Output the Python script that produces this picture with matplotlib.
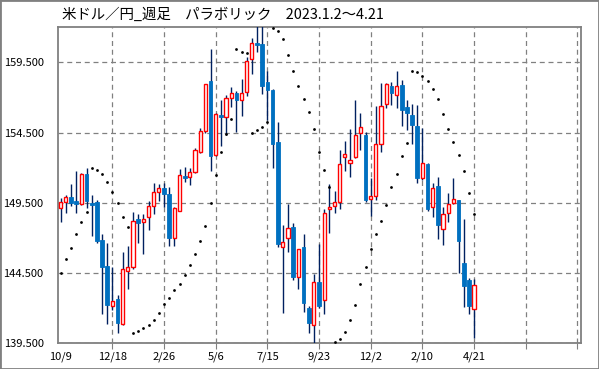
import matplotlib
matplotlib.use("Agg")
import matplotlib.pyplot as plt
from matplotlib.patches import Rectangle
import numpy as np

plt.rcParams['font.family'] = ['Noto Sans CJK JP', 'DejaVu Sans']

title = "米ドル／円_週足　パラボリック　2023.1.2～4.21"
xtick_labels = ["10/9", "12/18", "2/26", "5/6", "7/15", "9/23", "12/2", "2/10", "4/21", "", ""]
ytick_values = [139.5, 144.5, 149.5, 154.5, 159.5]

opens = [149.11,149.58,149.92,149.63,149.39,151.55,149.49,149.56,146.85,145.00,
         142.13,142.63,140.88,144.67,144.96,148.33,148.16,148.47,149.30,150.25,
         150.53,150.15,147.02,148.94,151.43,151.31,151.67,153.12,154.59,158.17,
         152.90,155.75,155.63,156.94,157.34,156.80,157.41,159.71,160.85,160.80,
         158.10,157.53,153.83,146.33,146.97,147.76,144.20,146.33,141.99,140.80,
         143.84,142.58,149.08,149.27,149.58,152.79,152.36,152.74,154.45,154.30,
         149.75,150.01,153.66,156.51,157.82,157.20,157.89,156.32,155.75,154.97,
         151.29,152.26,149.23,150.70,147.61,148.80,149.51,149.68,145.19,144.01,141.92]
closes = [149.54,149.89,149.49,149.44,151.55,149.63,149.35,146.81,144.96,142.23,
          142.49,140.97,144.77,144.91,148.18,148.09,148.33,149.25,150.25,150.53,
          150.15,147.02,149.11,151.46,151.29,151.67,153.24,154.59,157.93,152.86,
          155.80,155.63,156.94,157.29,156.82,157.29,159.57,160.85,160.76,157.84,
          157.51,153.71,146.59,146.69,147.69,144.24,146.19,142.39,140.92,143.89,
          142.18,148.75,149.18,149.54,152.24,152.98,152.55,154.30,154.87,149.68,
          149.96,153.66,156.37,157.93,157.34,157.79,156.13,155.92,155.06,151.29,
          152.31,149.06,150.53,147.95,148.71,149.42,149.75,146.81,143.60,142.18,143.63]
highs = [149.87,150.06,150.84,151.77,151.60,151.96,150.06,149.70,147.28,146.66,
         144.96,142.92,145.98,146.43,148.82,148.71,148.71,149.63,150.89,150.84,
         150.89,150.60,149.18,151.88,152.07,152.00,153.43,154.83,157.98,160.43,
         155.87,156.82,157.17,157.72,157.48,158.29,159.90,161.21,162.30,162.30,
         158.88,157.58,155.25,147.92,149.39,148.09,146.24,147.26,142.18,144.43,
         146.55,149.04,150.82,150.32,153.26,153.90,154.75,156.82,155.87,154.57,
         151.24,156.39,158.01,158.01,158.10,158.88,158.24,156.82,156.51,156.44,
         154.80,152.36,150.94,151.34,149.18,150.18,151.24,149.70,148.33,144.13,144.06]
lows = [148.16,148.75,149.30,148.80,149.35,149.16,147.16,146.66,141.61,140.88,
        141.87,140.26,140.80,143.39,144.81,146.62,145.86,147.54,148.73,149.63,
        149.18,146.45,146.45,148.89,150.98,150.79,151.62,153.07,154.49,151.79,
        152.86,153.54,154.33,156.34,154.52,155.68,157.10,158.67,160.26,157.25,
        155.40,151.96,146.36,141.68,146.02,144.03,143.39,141.75,140.26,139.55,
        141.99,141.61,147.33,148.80,149.08,151.79,151.31,152.67,153.28,149.58,
        148.59,149.68,153.14,156.27,156.49,156.23,154.97,154.68,153.71,150.94,
        151.13,148.94,148.52,146.95,146.52,148.16,149.42,144.48,142.06,141.59,139.86]
sar = [144.48,145.48,146.31,147.26,148.11,148.82,151.96,151.81,151.58,151.01,
       150.25,149.46,148.52,147.76,140.26,140.40,140.57,140.80,141.14,141.68,
       142.28,142.75,143.27,143.70,144.34,145.10,145.83,146.76,147.83,149.46,
       151.48,153.09,154.38,155.44,160.43,160.26,160.19,154.49,154.66,154.92,
       155.23,161.95,161.75,161.14,160.00,158.86,157.84,156.87,155.94,154.73,
       153.14,151.81,150.60,139.57,139.78,140.33,141.14,142.20,143.70,144.96,
       146.19,147.26,148.18,149.32,150.60,151.58,152.81,153.73,158.86,158.79,
       158.50,158.15,157.63,156.87,155.85,154.78,153.81,152.93,151.74,150.18,148.68]

W, H = 599, 369
fig = plt.figure(figsize=(W/100, H/100), dpi=100)
ax = fig.add_axes([57.5/W, 1-343.3/H, (581.5-57.5)/W, (343.3-27.3)/H])

x = np.arange(len(opens))
o = np.array(opens); c = np.array(closes)
up = c >= o

ax.vlines(x, lows, highs, color='#002060', lw=1.0, zorder=3)
bottoms = np.minimum(o, c)
heights = np.maximum(np.abs(c - o), 0.08)
ax.bar(x[~up], heights[~up], bottom=bottoms[~up], width=0.72,
       color='#0070C0', edgecolor='#0070C0', lw=0.6, zorder=4)
ax.bar(x[up], heights[up], bottom=bottoms[up], width=0.62,
       color='white', edgecolor='#FF0000', lw=1.0, zorder=4)
ax.scatter(x, sar, s=4, color='black', zorder=5, linewidths=0)

ax.set_xlim(-0.62, 100.8)
ax.set_ylim(139.5, 162.0)

ax.set_yticks(ytick_values)
ax.set_yticklabels([f"{v:.3f}" for v in ytick_values], fontsize=8)
ax.tick_params(axis='y', length=0, pad=10)
ax.set_xticks(range(0, 101, 10))
ax.set_xticklabels(xtick_labels, fontsize=8)
ax.tick_params(axis='x', length=4, color='#808080', pad=2)
xt = ax.xaxis.get_major_ticks()
xt[0].tick1line.set_visible(False)

ax.grid(True, color='#808080', linestyle=(0, (4, 3)), lw=0.9, zorder=1)
xt[0].gridline.set_visible(False)
for s in ax.spines.values():
    s.set_color('#808080')
    s.set_linewidth(1.3)

fig.text(62/W, 1-15/H, title, fontsize=10.4, va='center', ha='left')
fig.patches.append(Rectangle((0, 0), 1, 1, transform=fig.transFigure,
                             fill=False, edgecolor='#808080', lw=2))
fig.savefig("out.png", dpi=100)
